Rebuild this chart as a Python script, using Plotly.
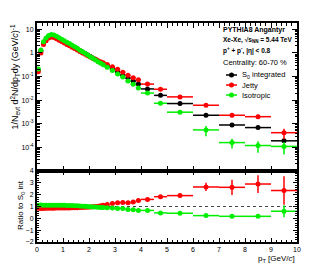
import plotly.graph_objects as go

# ---------------- data ----------------
pt = [0.05, 0.15, 0.25, 0.35, 0.45, 0.55, 0.65, 0.75, 0.85, 0.95,
      1.05, 1.15, 1.25, 1.35, 1.45, 1.55, 1.65, 1.75, 1.85, 1.95,
      2.05, 2.15, 2.25, 2.35, 2.45, 2.55, 2.7, 2.9, 3.1, 3.3,
      3.5, 3.7, 3.9, 4.25, 4.75, 5.5, 6.5, 7.5, 8.5, 9.5]
pt_halfwidth = [0.05] * 26 + [0.1] * 7 + [0.25, 0.25, 0.5, 0.5, 0.5, 0.5, 0.5]

s0_integrated = [0.19, 1.2, 2.7, 3.9, 5.0, 5.5, 5.3, 4.6, 4.0, 3.5,
                 3.02, 2.63, 2.29, 1.95, 1.70, 1.48, 1.26, 1.10, 0.955, 0.813,
                 0.708, 0.617, 0.537, 0.457, 0.398, 0.347, 0.275, 0.209, 0.155, 0.115,
                 0.087, 0.065, 0.049, 0.030, 0.016, 0.0072, 0.0023, 0.00089, 0.00069, 0.00019]
s0_err = [0] * 33 + [0.0005, 0.0003, 0.0002, 0.0001, 0.00006, 0.00006, 0.00003]

jetty = [0.16, 1.0, 2.27, 3.32, 4.3, 4.73, 4.56, 4.0, 3.48, 3.05,
         2.66, 2.31, 2.02, 1.74, 1.53, 1.33, 1.15, 1.01, 0.888, 0.764,
         0.680, 0.605, 0.537, 0.471, 0.426, 0.382, 0.322, 0.261, 0.203, 0.153,
         0.114, 0.089, 0.074, 0.048, 0.029, 0.0138, 0.0061, 0.0023, 0.0020, 0.00042]
jetty_err = [0] * 33 + [0.001, 0.0008, 0.0005, 0.0006, 0.0004, 0.0004, 0.0002]

isotropic = [0.21, 1.34, 3.0, 4.29, 5.5, 6.05, 5.83, 5.06, 4.4, 3.85,
             3.32, 2.87, 2.5, 2.11, 1.82, 1.57, 1.32, 1.13, 0.974, 0.813,
             0.694, 0.592, 0.510, 0.425, 0.366, 0.316, 0.248, 0.182, 0.130, 0.097,
             0.065, 0.047, 0.033, 0.020, 0.0074, 0.0031, 0.00055, 0.00016, 0.00012, 0.00011]
isotropic_err = [0] * 33 + [0.0006, 0.0003, 0.0002, 0.00025, 0.00007, 0.00006, 0.00006]

ratio_jetty = [0.85, 0.83, 0.84, 0.85, 0.86, 0.86, 0.86, 0.87, 0.87, 0.87,
               0.88, 0.88, 0.88, 0.89, 0.90, 0.90, 0.91, 0.92, 0.93, 0.94,
               0.96, 0.98, 1.00, 1.03, 1.07, 1.10, 1.17, 1.25, 1.31, 1.33,
               1.31, 1.37, 1.50, 1.60, 1.83, 1.92, 2.65, 2.62, 2.90, 2.35]
ratio_jetty_err = [0] * 33 + [0.05, 0.08, 0.1, 0.35, 0.65, 0.75, 1.2]

ratio_iso = [1.10, 1.12, 1.11, 1.10, 1.10, 1.10, 1.10, 1.10, 1.10, 1.10,
             1.10, 1.09, 1.09, 1.08, 1.07, 1.06, 1.05, 1.03, 1.02, 1.00,
             0.98, 0.96, 0.95, 0.93, 0.92, 0.91, 0.90, 0.87, 0.84, 0.84,
             0.75, 0.72, 0.67, 0.67, 0.46, 0.43, 0.23, 0.17, 0.17, 0.60]
ratio_iso_err = [0] * 33 + [0.03, 0.04, 0.05, 0.1, 0.1, 0.1, 0.5]

series_names = ["S<sub>0</sub> integrated", "Jetty", "Isotropic"]
series_colors = ["#000000", "#ff0000", "#00ee00"]

y_tickvals = [1e1, 1e0, 1e-1, 1e-2, 1e-3, 1e-4]
y_ticktext = ["10", "1", "10<sup>-1</sup>", "10<sup>-2</sup>", "10<sup>-3</sup>", "10<sup>-4</sup>"]

# ---------------- figure ----------------
W, H = 327, 273
L, R, T, B = 29, 289, 15, 234
FONT = "Liberation Sans"


def px2paper_x(px):
    return (px - L) / (R - L)


def px2paper_y(py):
    return (B - py) / (B - T)


fig = go.Figure()

spectra = [(s0_integrated, s0_err), (jetty, jetty_err), (isotropic, isotropic_err)]
for (vals, errs), name, col in zip(spectra, series_names, series_colors):
    fig.add_trace(go.Scatter(
        x=pt, y=vals, mode="markers", name=name, showlegend=False,
        marker=dict(color=col, size=5),
        error_x=dict(type="data", array=pt_halfwidth, color=col, thickness=1.5, width=0),
        error_y=dict(type="data", array=errs, color=col, thickness=1.5, width=0),
        xaxis="x", yaxis="y"))

ratios = [(ratio_jetty, ratio_jetty_err, series_colors[1]),
          (ratio_iso, ratio_iso_err, series_colors[2])]
for vals, errs, col in ratios:
    fig.add_trace(go.Scatter(
        x=pt, y=vals, mode="markers", showlegend=False,
        marker=dict(color=col, size=5),
        error_x=dict(type="data", array=pt_halfwidth, color=col, thickness=1.5, width=0),
        error_y=dict(type="data", array=errs, color=col, thickness=1.5, width=0),
        xaxis="x2", yaxis="y2"))

split = (B - 163) / (B - T)

minor_log = [m * 10 ** e for e in range(-5, 2) for m in range(2, 10)]

axis_common = dict(showline=True, linecolor="black", linewidth=2, mirror="allticks",
                   ticks="inside", tickcolor="black", tickwidth=1, showgrid=False,
                   zeroline=False, tickfont=dict(family=FONT, size=7, color="black"))

fig.update_layout(
    width=W, height=H,
    margin=dict(l=L, r=W - R, t=T, b=H - B, pad=0),
    paper_bgcolor="white", plot_bgcolor="white",
    font=dict(family=FONT, color="black"),
    xaxis=dict(domain=[0, 1], anchor="y", range=[0, 10], dtick=1, ticklen=5,
               showticklabels=False, matches="x2",
               minor=dict(dtick=0.2, ticks="inside", ticklen=2.5, tickcolor="black"),
               **axis_common),
    yaxis=dict(domain=[split, 1], anchor="x", type="log", range=[-5, 1.27],
               tickvals=y_tickvals, ticktext=y_ticktext, ticklen=5,
               minor=dict(tickvals=minor_log, ticks="inside", ticklen=2.5, tickcolor="black"),
               **axis_common),
    xaxis2=dict(domain=[0, 1], anchor="y2", range=[0, 10], dtick=1, ticklen=4,
                minor=dict(dtick=0.2, ticks="inside", ticklen=2, tickcolor="black"),
                **axis_common),
    yaxis2=dict(domain=[0, split], anchor="x2", range=[-2, 4], dtick=1, ticklen=4,
                minor=dict(dtick=0.2, ticks="inside", ticklen=2, tickcolor="black"),
                **axis_common),
)

# reference line at ratio 1
fig.add_shape(type="line", xref="x2", yref="y2", x0=0, x1=10, y0=1, y1=1,
              line=dict(color="#444444", width=1.2, dash="dot"), layer="below")

# axis titles
fig.add_annotation(xref="paper", yref="paper", x=px2paper_x(7), y=px2paper_y(15),
                   xanchor="center", yanchor="top", textangle=-90, showarrow=False,
                   text="1/N<sub>evt</sub> d<sup>2</sup>N/dp<sub>T</sub>dy (GeV/<i>c</i>)<sup>-1</sup>",
                   font=dict(family=FONT, size=9, color="black"))
fig.add_annotation(xref="paper", yref="paper", x=px2paper_x(13), y=px2paper_y(197),
                   xanchor="center", yanchor="middle", textangle=-90, showarrow=False,
                   text="Ratio to S<sub>0</sub> int",
                   font=dict(family=FONT, size=8, color="black"))
fig.add_annotation(xref="paper", yref="paper", x=1.0, y=px2paper_y(251),
                   xanchor="right", yanchor="middle", showarrow=False,
                   text="p<sub>T</sub> [GeV/<i>c</i>]",
                   font=dict(family=FONT, size=8, color="black"))

# header text
header = [("<b>PYTHIA8 Angantyr</b>", 22, 7),
          ("<b>Xe-Xe, √s<sub>NN</sub> = 5.44 TeV</b>", 32, 6.5),
          ("<b>p<sup>+</sup> + p<sup>-</sup>, |η| < 0.8</b>", 42, 6.5),
          ("Centrality: 60-70 %", 54, 7.5)]
for txt, py, fs in header:
    fig.add_annotation(xref="paper", yref="paper", x=px2paper_x(213), y=px2paper_y(py),
                       xanchor="left", yanchor="middle", showarrow=False, text=txt,
                       font=dict(family=FONT, size=fs, color="black"))

# legend
leg_y = [67, 77, 87]
for name, col, py in zip(series_names, series_colors, leg_y):
    fig.add_shape(type="line", xref="paper", yref="paper",
                  x0=px2paper_x(218), x1=px2paper_x(229), y0=px2paper_y(py), y1=px2paper_y(py),
                  line=dict(color=col, width=1.5))
    fig.add_shape(type="circle", xref="paper", yref="paper",
                  xsizemode="pixel", ysizemode="pixel",
                  xanchor=px2paper_x(223.5), yanchor=px2paper_y(py),
                  x0=-2.5, x1=2.5, y0=-2.5, y1=2.5,
                  fillcolor=col, line=dict(color=col, width=0))
    fig.add_annotation(xref="paper", yref="paper", x=px2paper_x(232), y=px2paper_y(py),
                       xanchor="left", yanchor="middle", showarrow=False, text=name,
                       font=dict(family=FONT, size=7.5, color="black"))

fig.write_html("out.html")
